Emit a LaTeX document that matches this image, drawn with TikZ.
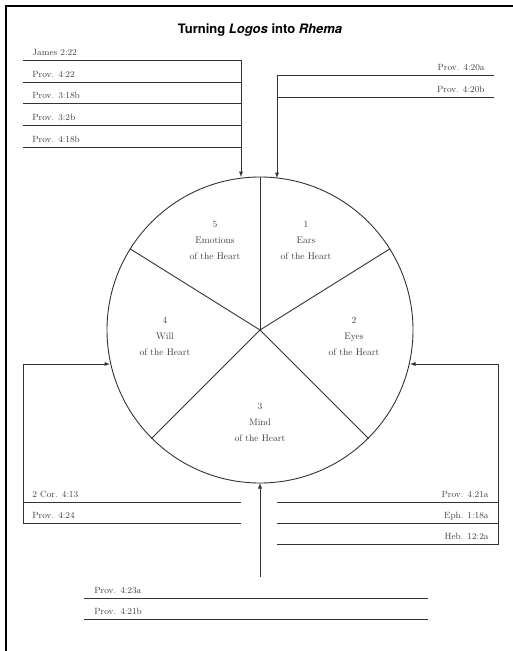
\documentclass[tikz,border=0pt]{standalone}
\usepackage{fontspec}
\newfontfamily\titlefont{TeX Gyre Heros}
\usetikzlibrary{arrows, positioning, calc}

\tikzstyle{refline} = [%
  draw=black!80,
  line width=0.9pt
]
\tikzstyle{reflabel} = [%
  text=black!75,
  inner sep=0pt,
  font=\fontsize{9}{10}\selectfont
]
\tikzstyle{sector} = [%
  align=center,
  text=black!75,
  text centered,
  inner sep=0pt,
  font=\fontsize{9.5}{16}\selectfont
]

\begin{document}
\begin{tikzpicture}[%
  x=1pt, y=-1pt,
  >=latex,
  every path/.style={line width=0.9pt}
]
  \useasboundingbox (0,0) rectangle (513,651);

  % Frame
  \coordinate (F0) at (6,651);
  \coordinate (F1) at (6,6);
  \coordinate (F2) at (513,6);
  \draw[line width=1.2pt,black] (F0) -- (F1) -- (F2);

  % Title
  \node[font=\titlefont\bfseries\fontsize{13}{15}\selectfont] (title) at (260,30)
    {Turning \textit{Logos} into \textit{Rhema}};

  % Heart
  \node[circle,draw=black!80,minimum size=306pt,inner sep=0pt] (heart) at (260,330) {};
  \draw[black!80] (heart.center) -- (heart.90);
  \draw[black!80] (heart.center) -- (heart.32);
  \draw[black!80] (heart.center) -- (heart.148);
  \draw[black!80] (heart.center) -- (heart.225);
  \draw[black!80] (heart.center) -- (heart.315);

  \node[sector] (S5) at (215,240) {5\\Emotions\\of the Heart};
  \node[sector] (S1) at (306,240) {1\\Ears\\of the Heart};
  \node[sector] (S4) at (165,336) {4\\Will\\of the Heart};
  \node[sector] (S2) at (354,336) {2\\Eyes\\of the Heart};
  \node[sector] (S3) at (260,422) {3\\Mind\\of the Heart};

  % Inputs on the circle
  \coordinate (I5) at (241,177);
  \coordinate (I1) at (277,178);
  \coordinate (I4) at (110,364);
  \coordinate (I2) at (410,364);
  \coordinate (I3) at (260,483);

  % Emotions (top left)
  \coordinate (A1) at (23,60);   \coordinate (B1) at (241,60);
  \coordinate (A2) at (23,82);   \coordinate (B2) at (241,82);
  \coordinate (A3) at (23,103);  \coordinate (B3) at (241,103);
  \coordinate (A4) at (23,125);  \coordinate (B4) at (241,125);
  \coordinate (A5) at (23,147);  \coordinate (B5) at (241,147);
  \draw[refline,->] (A1) -- (B1) -- (I5);
  \draw[refline] (A2) -- (B2);
  \draw[refline] (A3) -- (B3);
  \draw[refline] (A4) -- (B4);
  \draw[refline] (A5) -- (B5);
  \node[reflabel,anchor=base west] (TA1) at (32,55)  {James 2:22};
  \node[reflabel,anchor=base west] (TA2) at (32,77)  {Prov. 4:22};
  \node[reflabel,anchor=base west] (TA3) at (32,98)  {Prov. 3:18b};
  \node[reflabel,anchor=base west] (TA4) at (32,120) {Prov. 3:2b};
  \node[reflabel,anchor=base west] (TA5) at (32,142) {Prov. 4:18b};

  % Ears (top right)
  \coordinate (C1) at (494,75);  \coordinate (D1) at (277,75);
  \coordinate (C2) at (494,97);  \coordinate (D2) at (277,97);
  \draw[refline,->] (C1) -- (D1) -- (I1);
  \draw[refline] (C2) -- (D2);
  \node[reflabel,anchor=base east] (TC1) at (485,70) {Prov. 4:20a};
  \node[reflabel,anchor=base east] (TC2) at (485,92) {Prov. 4:20b};

  % Will (left)
  \coordinate (W0) at (23,364);
  \coordinate (E1) at (241,502); \coordinate (G1) at (23,502);
  \coordinate (E2) at (241,523); \coordinate (G2) at (23,523);
  \draw[refline] (E1) -- (G1);
  \draw[refline,->] (E2) -- (G2) -- (W0) -- (I4);
  \node[reflabel,anchor=base west] (TE1) at (32,497) {2 Cor. 4:13};
  \node[reflabel,anchor=base west] (TE2) at (32,518) {Prov. 4:24};

  % Eyes (right)
  \coordinate (Y0) at (498,364);
  \coordinate (H1) at (277,502); \coordinate (K1) at (498,502);
  \coordinate (H2) at (277,523); \coordinate (K2) at (498,523);
  \coordinate (H3) at (277,544); \coordinate (K3) at (498,544);
  \draw[refline] (H1) -- (K1);
  \draw[refline] (H2) -- (K2);
  \draw[refline,->] (H3) -- (K3) -- (Y0) -- (I2);
  \node[reflabel,anchor=base east] (TH1) at (489,497) {Prov. 4:21a};
  \node[reflabel,anchor=base east] (TH2) at (489,518) {Eph. 1:18a};
  \node[reflabel,anchor=base east] (TH3) at (489,539) {Heb. 12:2a};

  % Mind (bottom)
  \coordinate (M0) at (260,577);
  \draw[refline,->] (M0) -- (I3);
  \coordinate (N1) at (84,598);  \coordinate (P1) at (428,598);
  \coordinate (N2) at (84,619);  \coordinate (P2) at (428,619);
  \draw[refline] (N1) -- (P1);
  \draw[refline] (N2) -- (P2);
  \node[reflabel,anchor=base west] (TN1) at (94,593) {Prov. 4:23a};
  \node[reflabel,anchor=base west] (TN2) at (94,614) {Prov. 4:21b};

\end{tikzpicture}
\end{document}
